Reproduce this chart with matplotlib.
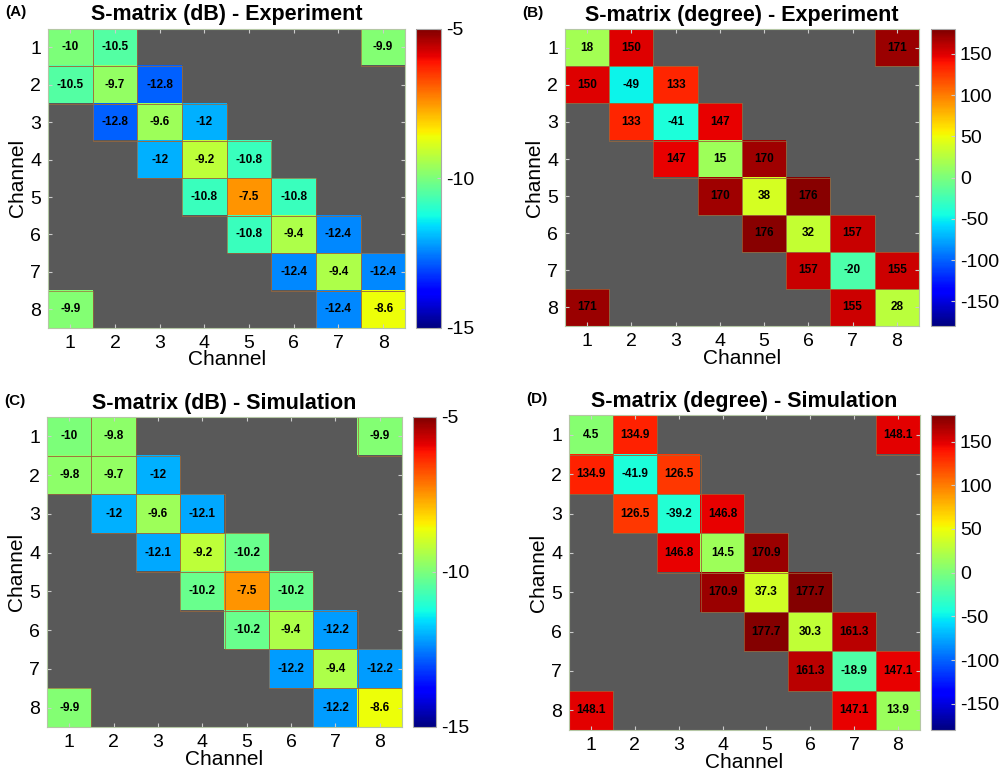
import numpy as np
import matplotlib
matplotlib.use("Agg")
import matplotlib.pyplot as plt

plt.rcParams['font.family'] = ['Liberation Sans', 'DejaVu Sans']
plt.rcParams['axes.unicode_minus'] = False

channels = [1, 2, 3, 4, 5, 6, 7, 8]

# dB - Experiment: main diagonal, neighbour (i, i+1) and corner (1, 8)
db_exp_diag = [-10, -9.7, -9.6, -9.2, -7.5, -9.4, -9.4, -8.6]
db_exp_off = [-10.5, -12.8, -12, -10.8, -10.8, -12.4, -12.4]
db_exp_corner = -9.9

# degree - Experiment
deg_exp_diag = [18, -49, -41, 15, 38, 32, -20, 28]
deg_exp_off = [150, 133, 147, 170, 176, 157, 155]
deg_exp_corner = 171

# dB - Simulation
db_sim_diag = [-10, -9.7, -9.6, -9.2, -7.5, -9.4, -9.4, -8.6]
db_sim_off = [-9.8, -12, -12.1, -10.2, -10.2, -12.2, -12.2]
db_sim_corner = -9.9

# degree - Simulation
deg_sim_diag = [4.5, -41.9, -39.2, 14.5, 37.3, 30.3, -18.9, 13.9]
deg_sim_off = [134.9, 126.5, 146.8, 170.9, 177.7, 161.3, 147.1]
deg_sim_corner = 148.1


def build(diag, off, corner):
    n = len(diag)
    m = np.full((n, n), np.nan)
    for i in range(n):
        m[i, i] = diag[i]
    for i in range(n - 1):
        m[i, i + 1] = off[i]
        m[i + 1, i] = off[i]
    m[0, n - 1] = corner
    m[n - 1, 0] = corner
    return m


cmap = plt.get_cmap('jet').copy()
cmap.set_bad('#595959')

panels = [
    ("(A)", "S-matrix (dB) - Experiment", build(db_exp_diag, db_exp_off, db_exp_corner),
     (-15, -5), [-15, -10, -5],
     [0.048, 0.578, 0.357, 0.385], [0.4156, 0.578, 0.025, 0.385]),
    ("(B)", "S-matrix (degree) - Experiment", build(deg_exp_diag, deg_exp_off, deg_exp_corner),
     (-180, 180), [-150, -100, -50, 0, 50, 100, 150],
     [0.5644, 0.5804, 0.3536, 0.382], [0.930, 0.5804, 0.024, 0.382]),
    ("(C)", "S-matrix (dB) - Simulation", build(db_sim_diag, db_sim_off, db_sim_corner),
     (-15, -5), [-15, -10, -5],
     [0.047, 0.0644, 0.3546, 0.399], [0.4126, 0.0644, 0.023, 0.399]),
    ("(D)", "S-matrix (degree) - Simulation", build(deg_sim_diag, deg_sim_off, deg_sim_corner),
     (-180, 180), [-150, -100, -50, 0, 50, 100, 150],
     [0.5684, 0.0605, 0.3506, 0.405], [0.930, 0.0605, 0.024, 0.405]),
]

fig = plt.figure(figsize=(10.01, 7.77), dpi=100)

for tag, title, mat, (vmin, vmax), cticks, apos, cpos in panels:
    ax = fig.add_axes(apos)
    im = ax.imshow(mat, cmap=cmap, vmin=vmin, vmax=vmax, aspect='auto',
                   extent=(0.5, 8.5, 8.5, 0.5), interpolation='nearest')
    ax.set_facecolor('#595959')
    # thin cell borders like the original pcolor output
    for i in range(8):
        for j in range(8):
            v = mat[i, j]
            if not np.isnan(v):
                ax.add_patch(plt.Rectangle((channels[j] - 0.5, channels[i] - 0.5), 1, 1,
                                           fill=False, edgecolor='#a06a3a', linewidth=0.5))
                ax.text(channels[j], channels[i], f"{v:g}", ha='center', va='center',
                        fontsize=8.5, fontweight='bold', color='black')
    ax.set_xlim(0.5, 8.5)
    ax.set_ylim(8.5, 0.5)
    ax.set_xticks(channels)
    ax.set_yticks(channels)
    ax.tick_params(direction='in', length=3, labelsize=14, color='#cccccc',
                   top=True, right=True, pad=5)
    ax.set_xlabel("Channel", fontsize=15, labelpad=-1)
    ax.set_ylabel("Channel", fontsize=15, labelpad=2)
    ax.set_title(title, fontsize=15.5, fontweight='bold', pad=6)
    for s in ax.spines.values():
        s.set_color('#b5c7a5')
    fig.text(apos[0] - 0.043, apos[1] + apos[3] + 0.012, tag, fontsize=11,
             fontweight='bold', ha='left', va='bottom')

    cax = fig.add_axes(cpos)
    cb = fig.colorbar(im, cax=cax, ticks=cticks)
    cb.ax.tick_params(direction='in', length=3, labelsize=14, color='#cccccc')
    cb.outline.set_edgecolor('#aaaaaa')

fig.savefig("out.png", dpi=100)
